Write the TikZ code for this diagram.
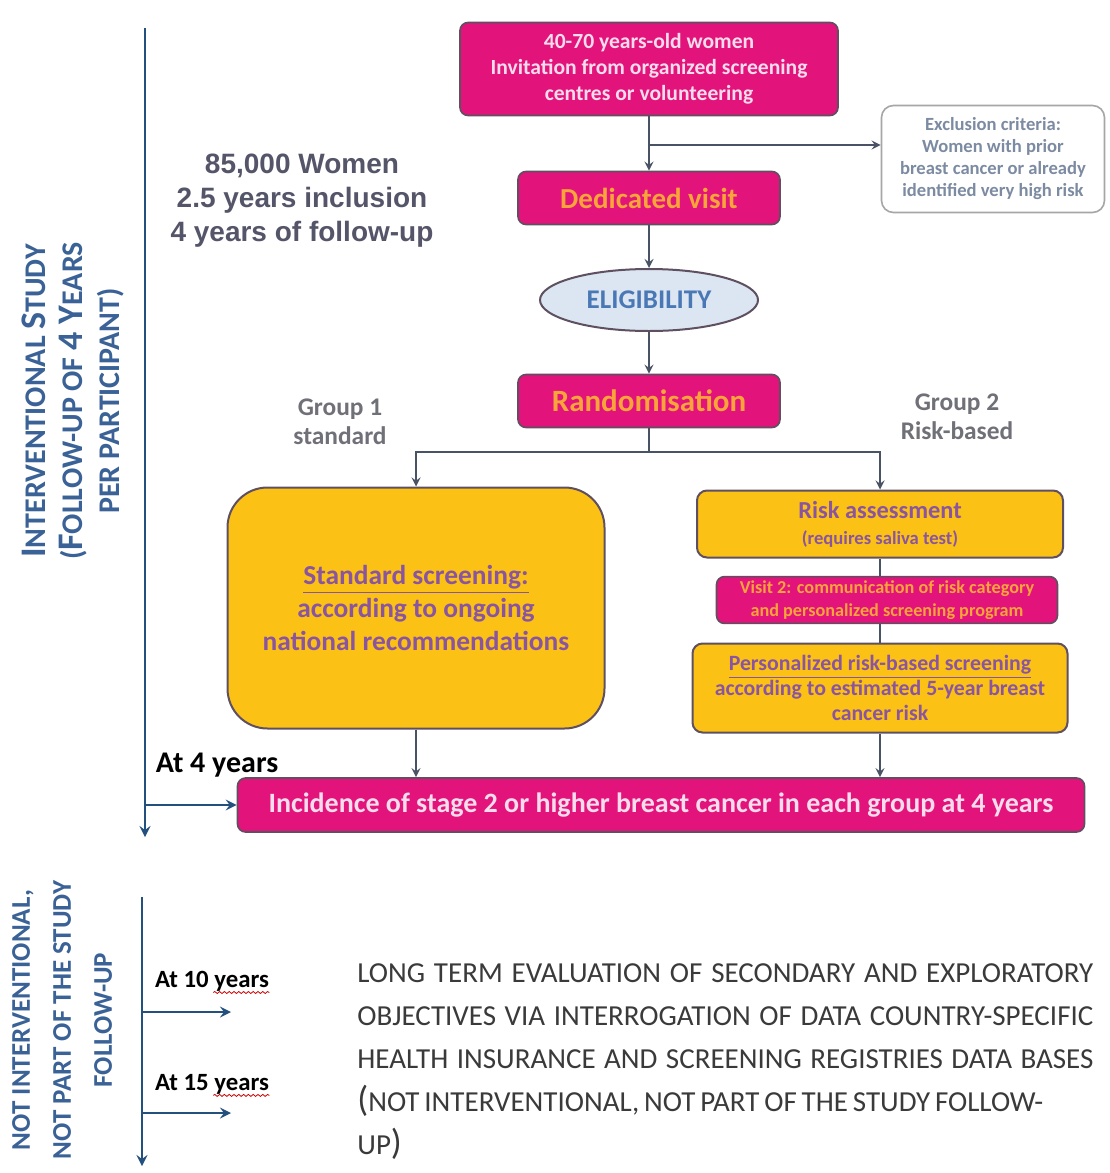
\documentclass[tikz,border=0pt]{standalone}
\usepackage{fontspec}
\setmainfont{Carlito}
\newfontfamily\arialfont{Liberation Sans}
\usetikzlibrary{shapes.geometric,positioning,decorations.pathmorphing}
\definecolor{cMagenta}{HTML}{E2137B}
\definecolor{cYellow}{HTML}{FCC115}
\definecolor{cBorder}{HTML}{5E5060}
\definecolor{cPurple}{HTML}{8A55A0}
\definecolor{cOrange}{HTML}{F7A43A}
\definecolor{cPale}{HTML}{FADCEC}
\definecolor{cAxis}{HTML}{24507E}
\definecolor{cSide}{HTML}{3A6296}
\definecolor{cEllFill}{HTML}{DCE6F2}
\definecolor{cEllText}{HTML}{4A78B5}
\definecolor{cGroup}{HTML}{707078}
\definecolor{cNote}{HTML}{7C8BA2}
\definecolor{cLine}{HTML}{4A5266}
\definecolor{cLong}{HTML}{3A3A3A}
\definecolor{cStudy}{HTML}{55556A}
\newcommand{\initcap}[1]{{\fontsize{18}{18}\selectfont #1}}
\tikzset{
  pinkbox/.style={rectangle, rounded corners=4pt, fill=cMagenta, draw=cBorder, line width=0.8pt, align=center, inner sep=2pt},
  goldbox/.style={rectangle, rounded corners=5pt, fill=cYellow, draw=cBorder, line width=1pt, align=center, text=cPurple, inner sep=2pt},
  flowline/.style={draw=cLine, line width=1pt},
  axisline/.style={draw=cAxis, line width=1.4pt, ->},
  sidetext/.style={rotate=90, align=center, text=cSide},
  grouplabel/.style={align=center, text=cGroup, font=\bfseries\fontsize{12.7}{14.5}\selectfont},
  yearlabel/.style={inner sep=0pt, font=\bfseries\fontsize{12.4}{14}\selectfont},
  squiggle/.style={draw=red!80!black, line width=0.4pt, decorate, decoration={snake, amplitude=0.5pt, segment length=2.4pt}}
}
\begin{document}
\begin{tikzpicture}[x=0.5pt, y=-0.5pt, >=stealth]
\fill[white] (0,0) rectangle (1109,1173);
\useasboundingbox (0,0) rectangle (1109,1173);

\node (invite) [pinkbox, minimum width=189pt, minimum height=46.5pt, text=cPale, font=\bfseries\fontsize{10.8}{13}\selectfont] at (649,69) {40-70 years-old women\\Invitation from organized screening\\centres or volunteering};
\node (exclude) [rectangle, rounded corners=6pt, draw=black!35, fill=white, line width=0.8pt, minimum width=111.5pt, minimum height=53.5pt, align=center, text=cNote, font=\bfseries\fontsize{9.3}{11}\selectfont] at (993,159) {Exclusion criteria:\\Women with prior\\breast cancer or already\\identified very high risk};
\node (visit1) [pinkbox, minimum width=131pt, minimum height=26.5pt, text=cOrange, font=\bfseries\fontsize{14.5}{15}\selectfont] at (649,198) {Dedicated visit};
\node (elig) [ellipse, draw=cBorder, line width=1pt, fill=cEllFill, minimum width=109pt, minimum height=31pt, inner sep=1pt, text=cEllText, font=\bfseries\fontsize{13.5}{14}\selectfont] at (649,300) {ELIGIBILITY};
\node (random) [pinkbox, minimum width=131pt, minimum height=26.5pt, text=cOrange, font=\bfseries\fontsize{15.5}{16}\selectfont] at (649,401) {Randomisation};
\node (study) [align=center, text=cStudy, font=\arialfont\bfseries\fontsize{14}{17}\selectfont] at (302,201) {85,000 Women\\2.5 years inclusion\\4 years of follow-up};
\node (group1) [grouplabel] at (340,422) {Group 1\\standard};
\node (group2) [grouplabel] at (957,417) {Group 2\\Risk-based};
\node (standard) [goldbox, rounded corners=20pt, minimum width=188.5pt, minimum height=120.5pt, font=\bfseries\fontsize{13.7}{16.5}\selectfont] at (416,608) {\underline{Standard screening:}\\according to ongoing\\national recommendations};
\node (risk) [goldbox, minimum width=183pt, minimum height=33.5pt, font=\bfseries\fontsize{12.2}{13}\selectfont] at (880,524) {Risk assessment\\{\fontsize{9.3}{11}\selectfont (requires saliva test)}};
\node (visit2) [pinkbox, minimum width=170.5pt, minimum height=22.5pt, text=cOrange, font=\bfseries\fontsize{9.1}{11.5}\selectfont] at (887,600) {Visit 2: communication of risk category\\and personalized screening program};
\node (personal) [goldbox, minimum width=187.5pt, minimum height=44.5pt, font=\bfseries\fontsize{10.9}{12.3}\selectfont] at (880,688) {\underline{Personalized risk-based screening}\\according to estimated 5-year breast\\cancer risk};
\node (incidence) [pinkbox, minimum width=423.5pt, minimum height=27pt, text=cPale, font=\bfseries\fontsize{14}{15}\selectfont] at (661,805) {Incidence of stage 2 or higher breast cancer in each group at 4 years};
\node (at4) [font=\bfseries\fontsize{15}{16}\selectfont] at (217,765) {At 4 years};
\node (interv) [sidetext, font=\bfseries\fontsize{15}{18.5}\selectfont] at (73,401) {\initcap{I}NTERVENTIONAL \initcap{S}TUDY\\(\initcap{F}OLLOW-UP OF \initcap{4 Y}EARS\\PER PARTICIPANT)};

\coordinate (exsplit) at (649,145);
\coordinate (fork) at (649,452);
\draw[flowline] (invite) -- (exsplit);
\draw[flowline, ->] (exsplit) -- (visit1);
\draw[flowline, ->] (exsplit) -- (exsplit -| exclude.west);
\draw[flowline, ->] (visit1) -- (elig);
\draw[flowline, ->] (elig) -- (random);
\draw[flowline] (random) -- (fork);
\draw[flowline, ->] (fork) -| (standard);
\draw[flowline, ->] (fork) -| (risk);
\draw[flowline] (risk.south) -- (risk.south |- visit2.north);
\draw[flowline] (risk.south |- visit2.south) -- (risk.south |- personal.north);
\draw[flowline, ->] (standard.south) -- (standard.south |- incidence.north);
\draw[flowline, ->] (personal.south) -- (personal.south |- incidence.north);

\coordinate (axtop) at (145,28);
\coordinate (axbot) at (145,837);
\draw[axisline] (axtop) -- (axbot);
\draw[axisline] (axtop |- incidence.west) -- (incidence.west);

\node (notinterv) [sidetext, font=\bfseries\fontsize{13.5}{20.5}\selectfont] at (62,1020) {NOT INTERVENTIONAL,\\NOT PART OF THE STUDY\\FOLLOW-UP};
\coordinate (ax2top) at (142,897);
\coordinate (ax2bot) at (142,1166);
\coordinate (end10) at (231,1012);
\coordinate (end15) at (231,1113);
\draw[axisline] (ax2top) -- (ax2bot);
\draw[axisline] (ax2top |- end10) -- (end10);
\draw[axisline] (ax2top |- end15) -- (end15);
\node (lab10) [yearlabel] at (212,981) {At 10 years};
\node (lab15) [yearlabel] at (212,1084) {At 15 years};
\draw[squiggle] ([xshift=-28pt,yshift=-0.5pt]lab10.south east) -- ([yshift=-0.5pt]lab10.south east);
\draw[squiggle] ([xshift=-28pt,yshift=-0.5pt]lab15.south east) -- ([yshift=-0.5pt]lab15.south east);

\node (longterm) [anchor=north west, inner sep=0pt, align=left, text=cLong, font=\fontsize{14.5}{21.5}\selectfont] at (357,963) {\makebox[368pt][s]{LONG TERM EVALUATION OF SECONDARY AND EXPLORATORY}\\\makebox[368pt][s]{OBJECTIVES VIA INTERROGATION OF DATA COUNTRY-SPECIFIC}\\\makebox[368pt][s]{HEALTH INSURANCE AND SCREENING REGISTRIES DATA BASES}\\\makebox[343pt][s]{{\fontsize{18}{18}\selectfont(}NOT INTERVENTIONAL, NOT PART OF THE STUDY FOLLOW-}\\UP{\fontsize{18}{18}\selectfont)}};
\end{tikzpicture}
\end{document}
